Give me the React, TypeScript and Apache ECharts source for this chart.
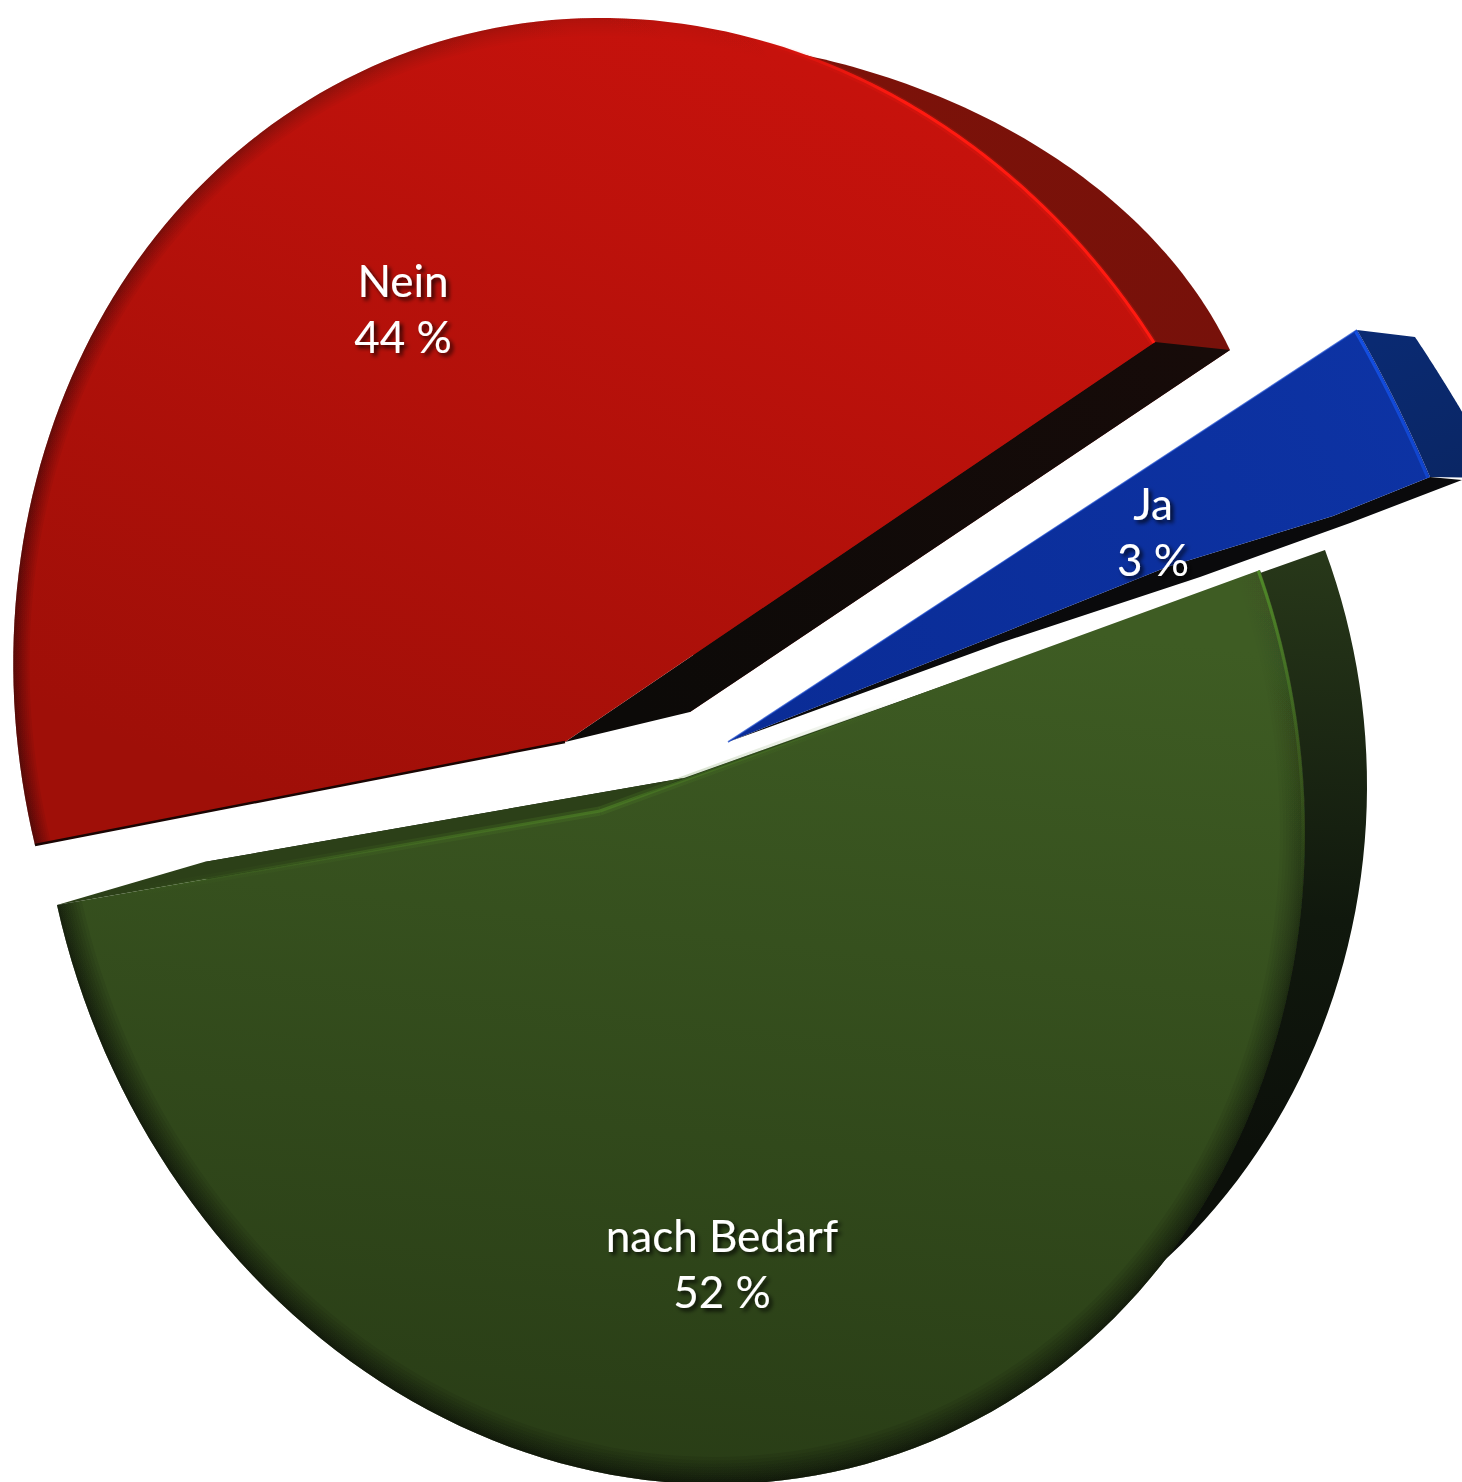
import React, { useEffect, useRef } from "react";
import * as echarts from "echarts";

const categories = ["Ja", "nach Bedarf", "Nein"];
const shares = [3, 52, 44];
const percentLabels = ["3 %", "52 %", "44 %"];

type P = [number, number];
const topApex: P[] = [[728, 742], [600, 811], [565, 742]];
const topRims: P[][] = [
  [[1357, 330], [1375, 362], [1393, 397], [1411, 436], [1430, 477]],
  [[1260, 570], [1305, 830], [800, 1478], [267, 1290], [57, 905]],
  [[35, 845], [133, 267], [500, 27], [947, 127], [1155, 342]],
];
const bottomApex: P[] = [[785, 742], [684, 778], [690, 712]];
const bottomRims: P[][] = [
  [[1415, 337], [1435, 368], [1455, 400], [1478, 440], [1500, 478]],
  [[1325, 550], [1367, 783], [1313, 1050], [1200, 1225], [204, 862]],
  [[160, 818], [520, 42], [880, 75], [1080, 175], [1230, 350]],
];
const redWallFromX = 720;
const blueFaceEdge: P[] = [[1333, 516], [1167, 567], [1000, 634]];
const blueCutEdge: P[] = [[1462, 480], [1350, 523], [1200, 577], [1000, 643]];
const labelCentres: P[] = [[1153, 503], [722, 1235], [403, 280]];
const lineGap = 56;

const LG = (x: number, y: number, x2: number, y2: number, stops: [number, string][]) =>
  new echarts.graphic.LinearGradient(
    x, y, x2, y2,
    stops.map(([offset, color]) => ({ offset, color })),
    true
  );

const faceFill = [
  LG(1400, 350, 750, 740, [[0, "#0d33a4"], [1, "#0a2c96"]]),
  LG(800, 600, 700, 1480, [[0, "#3e5c23"], [1, "#293d16"]]),
  LG(700, 20, 350, 840, [[0, "#c6120c"], [1, "#9f0f08"]]),
];
const wallFill = [
  LG(1400, 330, 1462, 480, [[0, "#0a2a72"], [1, "#0a2664"]]),
  LG(1300, 560, 1250, 1150, [[0, "#273719"], [0.6, "#10180d"], [1, "#0c100a"]]),
  LG(850, 60, 1230, 350, [[0, "#7c1209"], [1, "#77110a"]]),
];
const edgeShade = [
  LG(1400, 340, 1400, 480, [[0, "rgba(0,0,0,0)"], [1, "rgba(0,0,0,0)"]]),
  LG(1300, 620, 1100, 1300, [[0, "rgba(0,0,0,0.1)"], [0.5, "rgba(0,0,0,0.7)"], [1, "rgba(0,0,0,1)"]]),
  LG(800, 40, 30, 600, [[0, "rgba(0,0,0,0)"], [0.35, "rgba(0,0,0,0.3)"], [1, "rgba(0,0,0,0.7)"]]),
];
const highlight = [
  LG(1357, 330, 1430, 477, [[0, "#1450e4"], [1, "#1044cc"]]),
  LG(1262, 570, 1300, 900, [[0, "#4f8a28"], [0.5, "rgba(74,122,36,0.45)"], [1, "rgba(74,122,36,0)"]]),
  LG(760, 40, 900, 110, [[0, "rgba(255,24,16,0)"], [1, "#ff1a10"]]),
];

function solve(A: number[][], b: number[]) {
  const n = b.length;
  const M = A.map((r, i) => [...r, b[i]]);
  for (let c = 0; c < n; c++) {
    let p = c;
    for (let r = c + 1; r < n; r++) if (Math.abs(M[r][c]) > Math.abs(M[p][c])) p = r;
    [M[c], M[p]] = [M[p], M[c]];
    for (let r = 0; r < n; r++) {
      if (r === c) continue;
      const f = M[r][c] / M[c][c];
      for (let k = c; k <= n; k++) M[r][k] -= f * M[c][k];
    }
  }
  return M.map((r, i) => r[n] / r[i]);
}

function homography(src: P[], dst: P[]) {
  const A: number[][] = [];
  const b: number[] = [];
  src.forEach(([u, v], i) => {
    const [x, y] = dst[i];
    A.push([u, v, 1, 0, 0, 0, -u * x, -v * x]);
    b.push(x);
    A.push([0, 0, 0, u, v, 1, -u * y, -v * y]);
    b.push(y);
  });
  const h = solve(A, b);
  return (u: number, v: number): P => {
    const w = h[6] * u + h[7] * v + 1;
    return [(h[0] * u + h[1] * v + h[2]) / w, (h[3] * u + h[4] * v + h[5]) / w];
  };
}

const total = shares.reduce((a, b) => a + b, 0);
const onCircle = (a: number): P => [Math.cos(a), Math.sin(a)];

// Maps the unit circle on to the ellipse through a rim, with the slice's two angles on its two corners.
function rimMap(rim: P[], a0: number, a1: number) {
  const am = (a0 + a1) / 2;
  const pts = rim.map(([x, y]) => [x / 1000, y / 1000]);
  const c = solve(pts.map(([x, y]) => [x * x, x * y, y * y, x, y]), pts.map(() => -1));
  const Q = [[c[0], c[1] / 2, c[3] / 2], [c[1] / 2, c[2], c[4] / 2], [c[3] / 2, c[4] / 2, 1]];
  const mul = (v: number[]) => Q.map((r) => r[0] * v[0] + r[1] * v[1] + r[2] * v[2]);
  const dot = (a: number[], b: number[]) => a[0] * b[0] + a[1] * b[1] + a[2] * b[2];
  const cross = (a: number[], b: number[]) => [
    a[1] * b[2] - a[2] * b[1],
    a[2] * b[0] - a[0] * b[2],
    a[0] * b[1] - a[1] * b[0],
  ];
  const S = [pts[0][0], pts[0][1], 1];
  const E = [pts[4][0], pts[4][1], 1];
  const pole = cross(mul(S), mul(E));
  const X = [(S[0] + E[0]) / 2, (S[1] + E[1]) / 2, 1];
  const t = Math.sqrt(-dot(X, mul(X)) / dot(pole, mul(pole)));
  const flat = (k: number): P => {
    const h = [X[0] + k * pole[0], X[1] + k * pole[1], X[2] + k * pole[2]];
    return [(h[0] / h[2]) * 1000, (h[1] / h[2]) * 1000];
  };
  const side = (p: number[]) => (E[0] - S[0]) * (p[1] - S[1]) - (E[1] - S[1]) * (p[0] - S[0]);
  const p1 = flat(t);
  const p2 = flat(-t);
  const sameSide = side([p1[0] / 1000, p1[1] / 1000]) * side(pts[2]) > 0;
  const M = sameSide ? p1 : p2;
  const Mx = sameSide ? p2 : p1;
  return homography(
    [onCircle(a0), onCircle(a1), onCircle(am), onCircle(am + Math.PI)],
    [rim[0], rim[4], M, Mx]
  );
}

// Short rims cannot carry an ellipse fit: the slice's point, corners and middle fix them instead.
function hubMap(apex: P, rim: P[], a0: number, a1: number) {
  const am = (a0 + a1) / 2;
  return homography([[0, 0], onCircle(a0), onCircle(am), onCircle(a1)], [apex, rim[0], rim[2], rim[4]]);
}

function arc(map: (u: number, v: number) => P, a0: number, a1: number, r = 1, n = 120): P[] {
  const out: P[] = [];
  for (let i = 0; i <= n; i++) {
    const a = a0 + ((a1 - a0) * i) / n;
    out.push(map(r * Math.cos(a), r * Math.sin(a)));
  }
  return out;
}

const poly = (points: P[], style: any) => ({ type: "polygon", silent: true, shape: { points }, style });
const line = (points: P[], style: any) => ({
  type: "polyline",
  silent: true,
  shape: { points },
  style: { fill: "none", ...style },
});

function renderSlice(params: any, api: any) {
  const i = params.dataIndex;
  const before = shares.slice(0, i).reduce((a, b) => a + b, 0);
  const a0 = (before / total) * Math.PI * 2;
  const a1 = a0 + (api.value(0) / total) * Math.PI * 2;
  const top = i === 0 ? hubMap(topApex[0], topRims[0], a0, a1) : rimMap(topRims[i], a0, a1);
  const bottom = i === 0 ? hubMap(bottomApex[0], bottomRims[0], a0, a1) : rimMap(bottomRims[i], a0, a1);
  const tA = topApex[i];
  const bA = bottomApex[i];
  const tS = topRims[i][0];
  const tE = topRims[i][4];
  const bE = bottomRims[i][4];
  const children: any[] = [];

  if (i === 0) {
    children.push(poly([...arc(bottom, a0, a1), ...arc(top, a0, a1).reverse()], { fill: wallFill[i] }));
    children.push(poly([tA, ...[...blueFaceEdge].reverse(), tE, ...blueCutEdge], { fill: "#0a0a0c" }));
  } else if (i === 1) {
    children.push(poly([bA, ...arc(bottom, a0, a1)], { fill: wallFill[i] }));
  } else {
    const visible = arc(bottom, a0, a1, 1, 240).filter((p) => p[0] >= redWallFromX);
    children.push(poly([bA, ...visible], { fill: wallFill[i] }));
  }

  if (i === 1) {
    children.push(poly([tE, bE, bA, tA], { fill: "#2c4018" }));
  } else if (i === 2) {
    children.push(poly([tA, tE, bE, bA], {
      fill: LG(1200, 340, 650, 730, [[0, "#170b09"], [1, "#0c0a08"]]),
    }));
  }

  // top face
  if (i === 0) {
    children.push(poly([tA, ...arc(top, a0, a1), ...blueFaceEdge], { fill: faceFill[i] }));
  } else {
    children.push(poly([tA, ...arc(top, a0, a1)], { fill: faceFill[i] }));
  }

  // soft darkening that grows toward the rim
  if (i > 0) {
    const outer = arc(top, a0, a1);
    const width = i === 1 ? 0.04 : 0.026;
    for (let s = 1; s <= 12; s++) {
      const r = 1 - Math.pow(s / 12, 1.6) * width;
      children.push(poly([...outer, ...arc(top, a0, a1, r).reverse()], {
        fill: edgeShade[i],
        opacity: 0.08,
      }));
    }
  }

  // highlights and crisp edges
  if (i === 0) {
    children.push(line(arc(top, a0, a1, 0.996), { stroke: highlight[0], lineWidth: 3 }));
    children.push(line([tA, tS], { stroke: "#1040c4", lineWidth: 1.5, opacity: 0.7 }));
  } else if (i === 1) {
    children.push(line(arc(top, a0, a0 + 0.9, 0.997), { stroke: highlight[1], lineWidth: 3 }));
    const leftGlow = LG(120, 895, 600, 811, [[0, "rgba(74,122,36,0)"], [1, "#4a7a24"]]);
    const rightGlow = LG(600, 811, 900, 702, [[0, "#4a7a24"], [1, "rgba(74,122,36,0)"]]);
    children.push(line([tE, tA], { stroke: leftGlow, lineWidth: 9, opacity: 0.3 }));
    children.push(line([tA, tS], { stroke: rightGlow, lineWidth: 9, opacity: 0.3 }));
    children.push(line([tE, tA], { stroke: leftGlow, lineWidth: 3, opacity: 0.8 }));
    children.push(line([tA, tS], { stroke: rightGlow, lineWidth: 3, opacity: 0.8 }));
  } else {
    children.push(line(arc(top, a1 - 1.0, a1, 0.997), { stroke: highlight[2], lineWidth: 7, opacity: 0.2 }));
    children.push(line(arc(top, a1 - 1.0, a1, 0.998), { stroke: highlight[2], lineWidth: 3 }));
    children.push(line([tS, tA], { stroke: "#1a0503", lineWidth: 2.5 }));
  }
  return { type: "group", children };
}

function renderLabel(params: any) {
  const i = params.dataIndex;
  const [x, y] = labelCentres[i];
  const textStyle = (text: string) => ({
    text,
    fill: "#ffffff",
    fontFamily: "Lato",
    fontSize: 44,
    align: "center",
    verticalAlign: "middle",
    textAlign: "center",
    textVerticalAlign: "middle",
    textShadowColor: "rgba(0,0,0,0.8)",
    textShadowBlur: 4,
    textShadowOffsetX: 3,
    textShadowOffsetY: 3,
  });
  return {
    type: "group",
    children: [
      { type: "text", silent: true, x, y, style: textStyle(categories[i]) },
      { type: "text", silent: true, x, y: y + lineGap, style: textStyle(percentLabels[i]) },
    ],
  };
}

export default function App() {
  const ref = useRef<HTMLDivElement>(null);
  useEffect(() => {
    document.body.style.margin = "0";
    document.documentElement.style.overflow = "hidden";
    const chart = echarts.init(ref.current!, undefined, { renderer: "svg" });
    chart.setOption({
      animation: false,
      backgroundColor: "#ffffff",
      series: [
        {
          type: "custom",
          coordinateSystem: "none",
          clip: false,
          silent: true,
          renderItem: renderSlice,
          data: shares.map((v) => [v]),
          z: 1,
        },
        {
          type: "custom",
          coordinateSystem: "none",
          clip: false,
          silent: true,
          renderItem: renderLabel,
          data: shares.map((v) => [v]),
          z: 5,
        },
      ],
    });
    return () => chart.dispose();
  }, []);
  return <div ref={ref} style={{ width: 1462, height: 1482 }} />;
}
